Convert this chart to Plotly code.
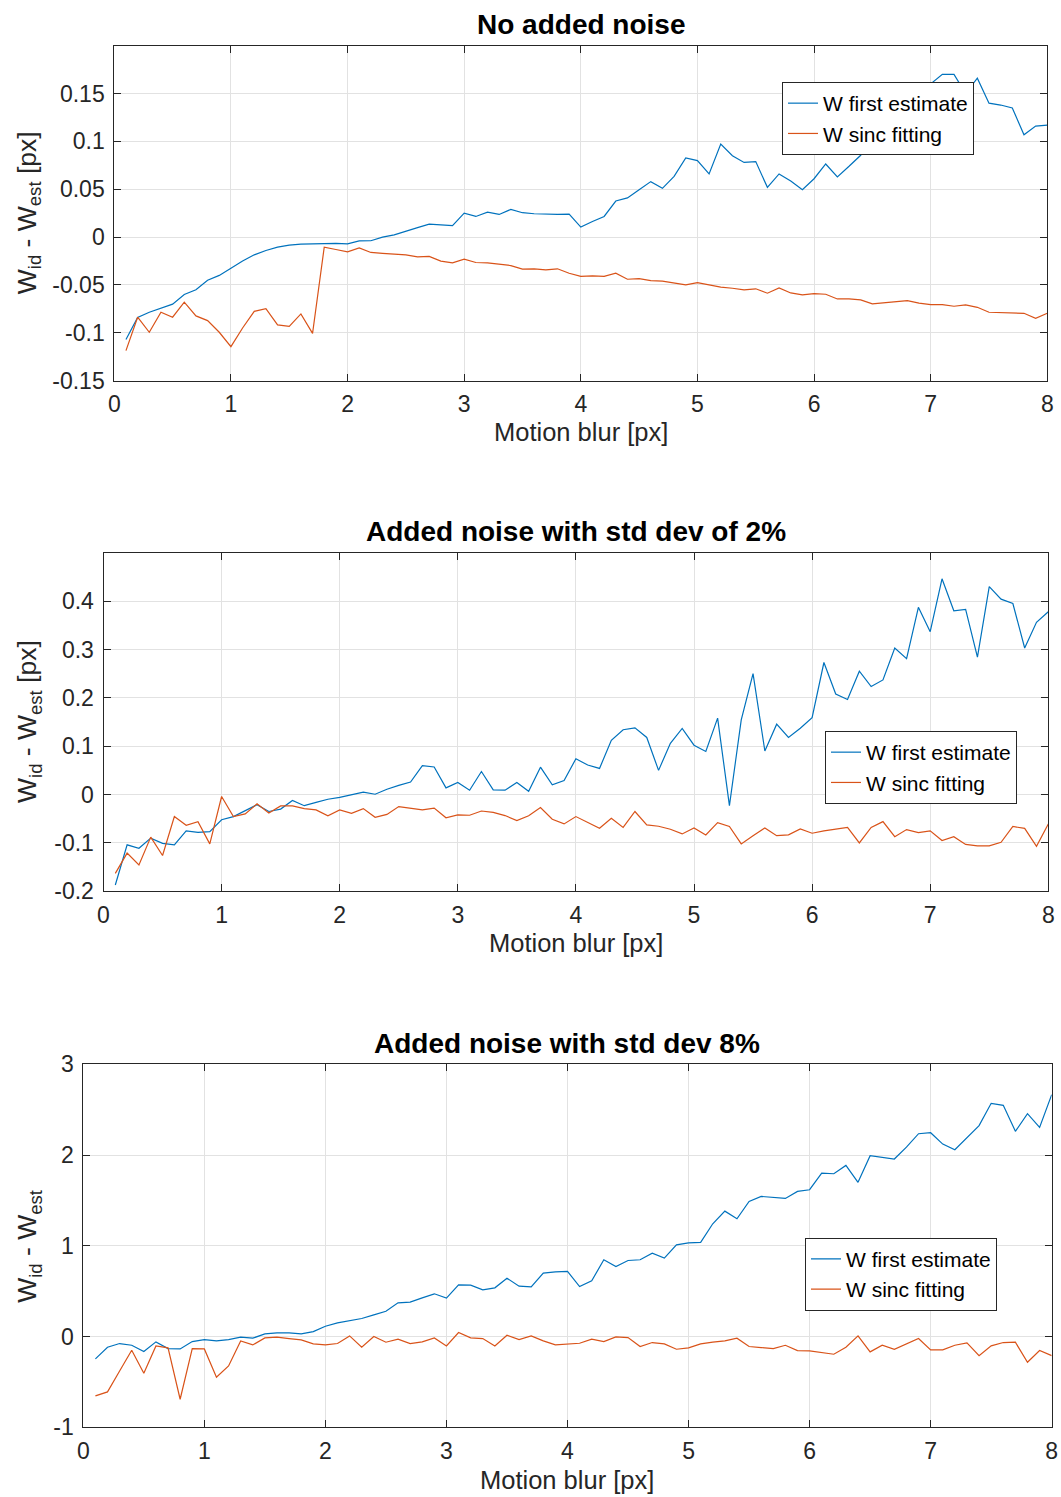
import plotly.graph_objects as go

# ---------------- data ----------------
motion_blur = [0.1, 0.2, 0.3, 0.4, 0.5, 0.6, 0.7, 0.8, 0.9, 1.0,
               1.1, 1.2, 1.3, 1.4, 1.5, 1.6, 1.7, 1.8, 1.9, 2.0,
               2.1, 2.2, 2.3, 2.4, 2.5, 2.6, 2.7, 2.8, 2.9, 3.0,
               3.1, 3.2, 3.3, 3.4, 3.5, 3.6, 3.7, 3.8, 3.9, 4.0,
               4.1, 4.2, 4.3, 4.4, 4.5, 4.6, 4.7, 4.8, 4.9, 5.0,
               5.1, 5.2, 5.3, 5.4, 5.5, 5.6, 5.7, 5.8, 5.9, 6.0,
               6.1, 6.2, 6.3, 6.4, 6.5, 6.6, 6.7, 6.8, 6.9, 7.0,
               7.1, 7.2, 7.3, 7.4, 7.5, 7.6, 7.7, 7.8, 7.9, 8.0]

# Panel 1: no added noise
p1_first = [-0.107, -0.084, -0.0785, -0.074, -0.070, -0.060, -0.055, -0.045, -0.040, -0.0325,
            -0.025, -0.0185, -0.014, -0.0105, -0.0084, -0.0073, -0.007, -0.0066, -0.0066, -0.007,
            -0.004, -0.0038, 0.000, 0.0024, 0.0066, 0.010, 0.0136, 0.013, 0.012, 0.025,
            0.0216, 0.026, 0.0237, 0.029, 0.0255, 0.0244, 0.0237, 0.0237, 0.024, 0.0105,
            0.0164, 0.0216, 0.0377, 0.041, 0.0495, 0.058, 0.051, 0.0635, 0.0827, 0.080,
            0.066, 0.0973, 0.085, 0.078, 0.0789, 0.052, 0.066, 0.0586, 0.0495, 0.061,
            0.0764, 0.063, 0.074, 0.0855, 0.110, 0.120, 0.130, 0.140, 0.150, 0.160,
            0.170, 0.170, 0.150, 0.166, 0.140, 0.138, 0.135, 0.107, 0.116, 0.117]
p1_sinc = [-0.1186, -0.0837, -0.0994, -0.0785, -0.0837, -0.068, -0.0823, -0.0872, -0.0994, -0.1144,
           -0.0949, -0.0775, -0.0747, -0.0917, -0.0932, -0.0802, -0.1005, -0.0105, -0.0129, -0.0154,
           -0.0112, -0.016, -0.017, -0.0178, -0.0185, -0.0206, -0.0202, -0.025, -0.0269, -0.023,
           -0.0265, -0.0269, -0.028, -0.0297, -0.0335, -0.0331, -0.0342, -0.0331, -0.0377, -0.041,
           -0.0405, -0.041, -0.0377, -0.044, -0.0433, -0.0454, -0.046, -0.0478, -0.0499, -0.0475,
           -0.0496, -0.0523, -0.0534, -0.0551, -0.054, -0.0586, -0.053, -0.0583, -0.0604, -0.059,
           -0.0597, -0.0646, -0.0646, -0.0656, -0.0698, -0.0687, -0.068, -0.0663, -0.069, -0.0705,
           -0.0705, -0.0722, -0.0708, -0.0733, -0.0785, -0.0789, -0.0792, -0.0796, -0.0848, -0.0796]

# Panel 2: noise std dev 2%
p2_first = [-0.187, -0.104, -0.111, -0.090, -0.101, -0.104, -0.075, -0.078, -0.0766, -0.052,
            -0.0455, -0.034, -0.021, -0.035, -0.030, -0.0124, -0.023, -0.016, -0.0097, -0.006,
            -0.0007, 0.005, 0.0007, 0.011, 0.019, 0.026, 0.060, 0.057, 0.0138, 0.025,
            0.009, 0.0476, 0.0097, 0.009, 0.025, 0.0069, 0.0566, 0.020, 0.029, 0.074,
            0.061, 0.054, 0.112, 0.134, 0.138, 0.118, 0.050, 0.106, 0.1366, 0.102,
            0.089, 0.158, -0.023, 0.1545, 0.250, 0.090, 0.1455, 0.118, 0.137, 0.159,
            0.273, 0.208, 0.1966, 0.255, 0.2234, 0.237, 0.303, 0.281, 0.387, 0.3366,
            0.446, 0.380, 0.383, 0.284, 0.430, 0.404, 0.395, 0.303, 0.356, 0.378]
p2_sinc = [-0.163, -0.121, -0.1455, -0.088, -0.126, -0.0455, -0.0634, -0.0559, -0.102, -0.004,
           -0.0455, -0.040, -0.0193, -0.038, -0.0234, -0.0234, -0.029, -0.0317, -0.044, -0.0317,
           -0.039, -0.029, -0.047, -0.041, -0.0248, -0.029, -0.0317, -0.028, -0.048, -0.042,
           -0.0428, -0.034, -0.037, -0.0434, -0.0538, -0.044, -0.027, -0.051, -0.0607, -0.0455,
           -0.057, -0.0697, -0.049, -0.068, -0.035, -0.0628, -0.0655, -0.0717, -0.0814, -0.069,
           -0.0834, -0.058, -0.066, -0.102, -0.085, -0.069, -0.085, -0.0834, -0.071, -0.080,
           -0.075, -0.071, -0.068, -0.100, -0.068, -0.0559, -0.087, -0.0724, -0.0786, -0.075,
           -0.095, -0.087, -0.103, -0.106, -0.106, -0.0986, -0.066, -0.070, -0.107, -0.0607]

# Panel 3: noise std dev 8%
p3_first = [-0.246, -0.118, -0.077, -0.096, -0.165, -0.059, -0.132, -0.136, -0.055, -0.033,
            -0.048, -0.033, -0.007, -0.018, 0.029, 0.040, 0.040, 0.029, 0.055, 0.114,
            0.151, 0.173, 0.199, 0.239, 0.279, 0.371, 0.379, 0.426, 0.471, 0.423,
            0.570, 0.566, 0.515, 0.537, 0.643, 0.555, 0.548, 0.699, 0.713, 0.717,
            0.551, 0.614, 0.846, 0.772, 0.838, 0.846, 0.919, 0.864, 1.011, 1.033,
            1.037, 1.243, 1.382, 1.298, 1.489, 1.544, 1.533, 1.522, 1.599, 1.618,
            1.801, 1.794, 1.886, 1.699, 1.993, 1.974, 1.956, 2.088, 2.235, 2.246,
            2.121, 2.059, 2.188, 2.324, 2.570, 2.548, 2.261, 2.456, 2.305, 2.665]
p3_sinc = [-0.654, -0.610, -0.379, -0.151, -0.404, -0.103, -0.125, -0.691, -0.132, -0.136,
           -0.449, -0.324, -0.048, -0.092, -0.015, -0.007, -0.022, -0.037, -0.081, -0.092,
           -0.077, 0.007, -0.118, 0.000, -0.0625, -0.029, -0.077, -0.059, -0.015, -0.103,
           0.044, -0.015, -0.022, -0.103, 0.015, -0.033, 0.007, -0.048, -0.092, -0.085,
           -0.074, -0.029, -0.055, -0.004, -0.011, -0.110, -0.066, -0.081, -0.140, -0.125,
           -0.081, -0.0625, -0.048, -0.018, -0.110, -0.121, -0.132, -0.096, -0.154, -0.158,
           -0.176, -0.195, -0.118, 0.007, -0.169, -0.096, -0.140, -0.081, -0.022, -0.147,
           -0.147, -0.096, -0.070, -0.210, -0.103, -0.066, -0.0625, -0.283, -0.154, -0.210]

series_names = ["W first estimate", "W sinc fitting"]
titles = ["No added noise", "Added noise with std dev of 2%", "Added noise with std dev 8%"]
x_label = "Motion blur [px]"
y_labels = ["W<sub>id</sub> - W<sub>est</sub> [px]",
            "W<sub>id</sub> - W<sub>est</sub> [px]",
            "W<sub>id</sub> - W<sub>est</sub>"]

x_tickvals = [0, 1, 2, 3, 4, 5, 6, 7, 8]
x_ticktext = ["0", "1", "2", "3", "4", "5", "6", "7", "8"]
y1_tickvals = [-0.15, -0.1, -0.05, 0, 0.05, 0.1, 0.15]
y1_ticktext = ["-0.15", "-0.1", "-0.05", "0", "0.05", "0.1", "0.15"]
y2_tickvals = [-0.2, -0.1, 0, 0.1, 0.2, 0.3, 0.4]
y2_ticktext = ["-0.2", "-0.1", "0", "0.1", "0.2", "0.3", "0.4"]
y3_tickvals = [-1, 0, 1, 2, 3]
y3_ticktext = ["-1", "0", "1", "2", "3"]

# ---------------- layout helpers ----------------
W, H = 1061, 1497
BLUE = "#0072BD"
ORANGE = "#D95319"
FONT = "Liberation Sans, Arial, Helvetica, sans-serif"
AX = "#262626"

def px_x(v):
    return v / W

def px_y(v):
    return 1 - v / H

# plot-area boxes in pixels: (left, top, right, bottom)
boxes = [(114.3, 45.7, 1047.3, 380.7),
         (103.5, 552.7, 1048.3, 891.3),
         (83.3, 1064.3, 1051.7, 1427.3)]
y_ranges = [[-0.15, 0.2], [-0.2, 0.5], [-1, 3]]
y_ticks = [(y1_tickvals, y1_ticktext), (y2_tickvals, y2_ticktext), (y3_tickvals, y3_ticktext)]
legend_pos = [(974, 82), (1017, 731), (997, 1237.7)]
title_centers = [(581, 24), (576, 531), (567, 1043)]
xlabel_centers = [(581, 432), (576, 943), (567, 1480)]

data_sets = [(p1_first, p1_sinc), (p2_first, p2_sinc), (p3_first, p3_sinc)]

fig = go.Figure()
legend_ids = ["legend", "legend2", "legend3"]

for i, (first, sinc) in enumerate(data_sets):
    xa = "x" if i == 0 else f"x{i+1}"
    ya = "y" if i == 0 else f"y{i+1}"
    fig.add_trace(go.Scatter(x=motion_blur, y=first, mode="lines", name=series_names[0],
                             line=dict(color=BLUE, width=1.2), xaxis=xa, yaxis=ya,
                             legend=legend_ids[i]))
    fig.add_trace(go.Scatter(x=motion_blur, y=sinc, mode="lines", name=series_names[1],
                             line=dict(color=ORANGE, width=1.2), xaxis=xa, yaxis=ya,
                             legend=legend_ids[i]))

layout = dict(
    width=W, height=H,
    margin=dict(l=0, r=0, t=0, b=0),
    paper_bgcolor="white", plot_bgcolor="white",
    font=dict(family=FONT, color=AX),
    showlegend=True,
)

common = dict(showgrid=True, gridcolor="#e2e2e2", gridwidth=1,
              showline=True, linecolor=AX, linewidth=1, mirror="ticks",
              ticks="inside", ticklen=7, tickcolor=AX, tickwidth=1,
              tickfont=dict(family=FONT, size=23, color=AX),
              zeroline=False, automargin=False)

annotations = []
for i, (l, t, r, b) in enumerate(boxes):
    xk = "xaxis" if i == 0 else f"xaxis{i+1}"
    yk = "yaxis" if i == 0 else f"yaxis{i+1}"
    anchor_x = "y" if i == 0 else f"y{i+1}"
    anchor_y = "x" if i == 0 else f"x{i+1}"
    layout[xk] = dict(common, domain=[px_x(l), px_x(r)], range=[0, 8],
                      tickvals=x_tickvals, ticktext=x_ticktext, anchor=anchor_x,
                      ticklabelstandoff=3)
    layout[yk] = dict(common, domain=[px_y(b), px_y(t)], range=y_ranges[i],
                      tickvals=y_ticks[i][0], ticktext=y_ticks[i][1], anchor=anchor_y,
                      ticklabelstandoff=4)
    lx, ly = legend_pos[i]
    layout[legend_ids[i]] = dict(x=px_x(lx), y=px_y(ly), xanchor="right", yanchor="top",
                                 xref="paper", yref="paper",
                                 bgcolor="white", bordercolor=AX, borderwidth=1,
                                 font=dict(family=FONT, size=21, color="black"),
                                 itemwidth=30, tracegroupgap=0)
    tx, ty = title_centers[i]
    annotations.append(dict(text=f"<b>{titles[i]}</b>", x=px_x(tx), y=px_y(ty),
                            xref="paper", yref="paper", xanchor="center", yanchor="middle",
                            showarrow=False, font=dict(family=FONT, size=28, color="black")))
    cx, cy = xlabel_centers[i]
    annotations.append(dict(text=x_label, x=px_x(cx), y=px_y(cy),
                            xref="paper", yref="paper", xanchor="center", yanchor="middle",
                            showarrow=False, font=dict(family=FONT, size=25.5, color=AX)))
    annotations.append(dict(text=y_labels[i], x=px_x(29), y=px_y((t + b) / 2),
                            xref="paper", yref="paper", xanchor="center", yanchor="middle",
                            textangle=-90, showarrow=False,
                            font=dict(family=FONT, size=26.5, color=AX)))

layout["annotations"] = annotations
fig.update_layout(**layout)
fig.write_html("out.html")
